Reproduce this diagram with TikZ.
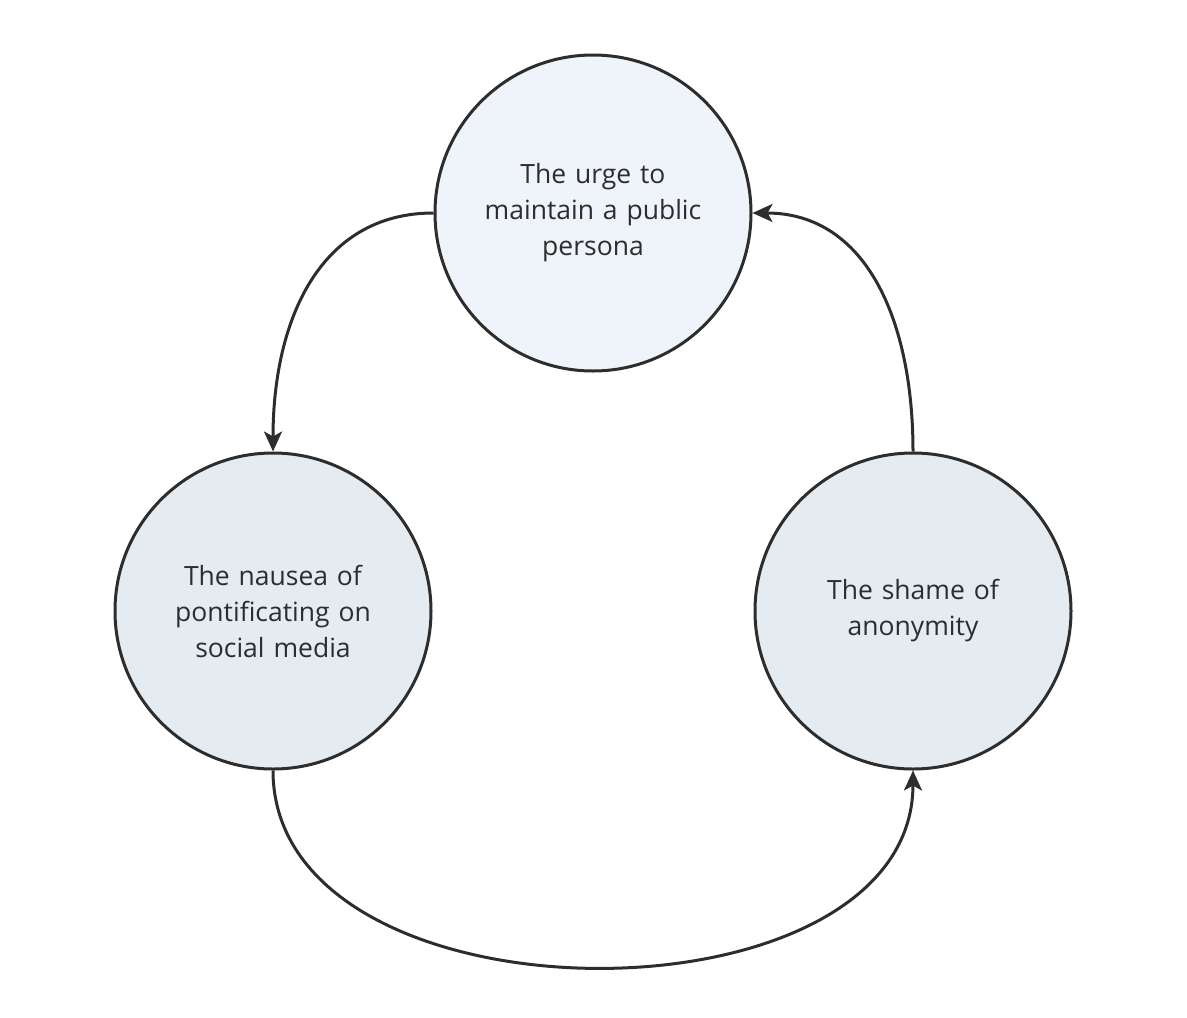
\documentclass[tikz,border=0pt]{standalone}
\usepackage{fontspec}
\setmainfont{Open Sans}
\usepackage{tikz}
\usetikzlibrary{arrows.meta, positioning}
\definecolor{mydark}{RGB}{45,45,45}
\definecolor{topfill}{RGB}{239,244,250}
\definecolor{sidefill}{RGB}{228,235,241}
\tikzset{
  state/.style={circle, draw=mydark, fill=sidefill, minimum size=316pt,
    inner sep=0pt, text width=250pt, align=center, text=mydark,
    font=\fontsize{26.5}{36}\selectfont, line width=3pt},
  arrow/.style={-{Stealth[length=20pt, width=18pt, inset=5pt]}, line width=3pt, color=mydark}
}
\begin{document}
\begin{tikzpicture}[x=1pt, y=-1pt]
  \useasboundingbox (0,0) rectangle (1187,1018);
  \node[state, fill=topfill] (urge) at (593, 213) {The urge to\\maintain a public\\persona};
  \node[state] (nausea) at (273, 611) {The nausea of\\pontificating on\\social media};
  \node[state] (shame) at (913, 611) {The shame of\\anonymity};

  % Cycle
  \draw[arrow] (urge.west) .. controls (320, 213) and (273, 320) .. (nausea.north);
  \draw[arrow] (nausea.south) .. controls (273, 1032) and (913, 1032) .. (shame.south);
  \draw[arrow] (shame.north) .. controls (913, 320) and (866, 213) .. (urge.east);
\end{tikzpicture}
\end{document}
